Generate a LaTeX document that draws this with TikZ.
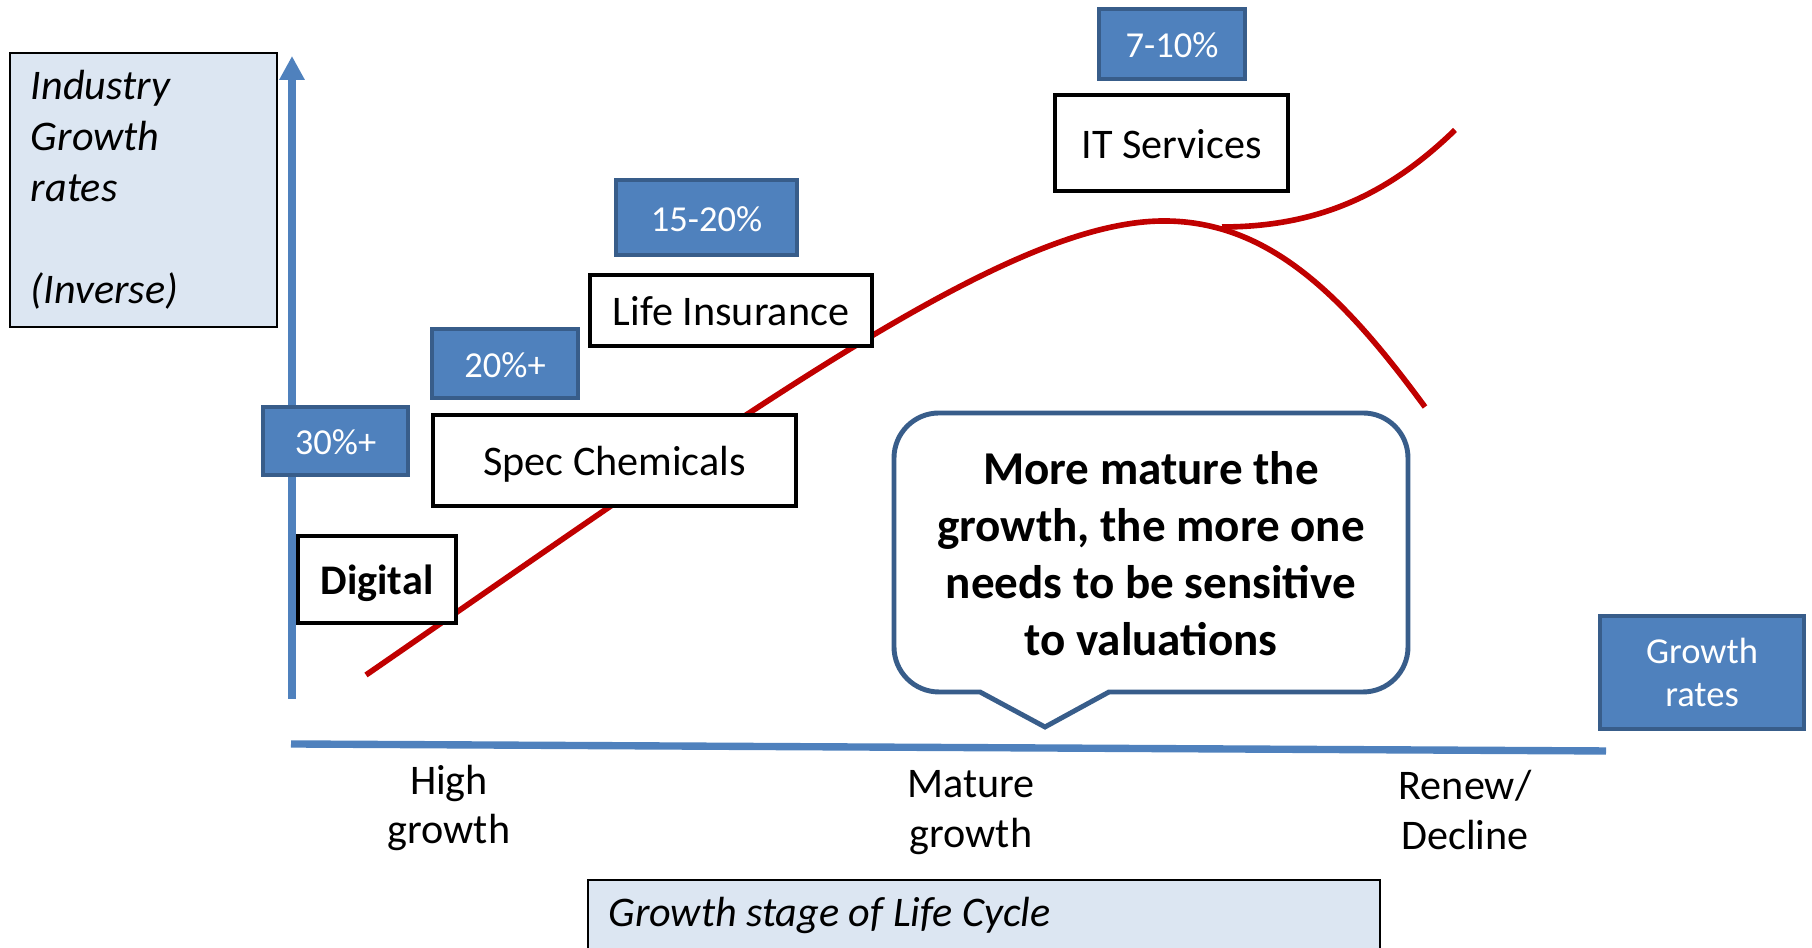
\documentclass[tikz,border=0pt]{standalone}
\usepackage{fontspec}
\setmainfont{Carlito}
\usetikzlibrary{arrows.meta,positioning,calc}

\definecolor{rateblue}{HTML}{4F81BD}
\definecolor{rateedge}{HTML}{385D8A}
\definecolor{paleblue}{HTML}{DCE6F2}
\definecolor{curvered}{HTML}{C00000}

\tikzset{
  ratebox/.style={draw=rateedge, fill=rateblue, line width=1.4pt, text=white, inner sep=0pt,
    align=center, font=\fontsize{10.4}{12.5}\selectfont},
  rateline/.style={ratebox, text height=9.8pt, text depth=2pt},
  sectorbox/.style={draw=black, fill=white, line width=1.4pt, inner sep=0pt,
    text height=11pt, text depth=2.4pt, font=\fontsize{12}{14.4}\selectfont},
  labelbox/.style={draw=black, fill=paleblue, line width=0.6pt,
    font=\fontsize{12}{14.5}\selectfont\itshape},
  stagelabel/.style={align=center, font=\fontsize{12}{14.2}\selectfont},
  axisline/.style={draw=rateblue, line width=2.1pt},
  redline/.style={draw=curvered, line width=1.6pt},
  talk/.style={draw=rateedge, line width=1.4pt, fill=white},
}

\begin{document}
\begin{tikzpicture}
\useasboundingbox (0,0) rectangle (18.12,9.48);
\clip (0,0) rectangle (18.12,9.48);

% axes
\coordinate (origin) at (2.92,2.49);
\coordinate (ytop) at (2.92,8.92);
\coordinate (xleft) at (2.91,2.04);
\coordinate (xright) at (16.06,1.97);
\draw[axisline, -{Triangle[width=0.24cm,length=0.24cm]}] (origin) -- (ytop);
\draw[axisline] (xleft) -- (xright);

% life cycle curve
\draw[redline] (3.66,2.73) .. controls (7.6,5.45) and (10.1,7.27) .. (11.64,7.27)
   .. controls (12.7,7.27) and (13.45,6.5) .. (14.25,5.41);
\draw[redline] (12.22,7.21) .. controls (13.2,7.21) and (13.9,7.55) .. (14.55,8.18);

% axis titles
\node[labelbox, text width=2.25cm, inner xsep=0.21cm, minimum height=2.74cm, align=left]
   (ytitle) at (1.435,7.58) {Industry\\Growth\\rates\\[14.5pt](Inverse)};
\draw[labelbox] (5.88,-0.3) rectangle (13.80,0.68);
\node[font=\fontsize{12}{14.5}\selectfont\itshape, anchor=west] (xtitle) at (5.96,0.33)
   {Growth stage of Life Cycle};
\node[ratebox, minimum width=2.04cm, minimum height=1.13cm] (growth) at (17.02,2.755)
   {Growth\\rates};

% stages
\node[stagelabel] (high) at (4.49,1.40) {High\\growth};
\node[stagelabel] (mature) at (9.71,1.35) {Mature\\growth};
\node[stagelabel] (renew) at (14.65,1.38) {Renew/\\Decline};

% sectors
\node[sectorbox, minimum width=1.58cm, minimum height=0.87cm, font=\fontsize{12}{14.4}\selectfont\bfseries]
   (digital) at (3.77,3.685) {Digital};
\node[sectorbox, minimum width=3.63cm, minimum height=0.91cm] (spec) at (6.145,4.875) {Spec Chemicals};
\node[sectorbox, minimum width=2.82cm, minimum height=0.71cm] (life) at (7.31,6.375) {Life Insurance};
\node[sectorbox, minimum width=2.33cm, minimum height=0.96cm] (it) at (11.715,8.05) {IT Services};

% growth rates
\node[rateline, minimum width=1.45cm, minimum height=0.68cm] (r30) at (3.355,5.07) {30\%+};
\node[rateline, minimum width=1.46cm, minimum height=0.69cm] (r20) at (5.05,5.845) {20\%+};
\node[rateline, minimum width=1.81cm, minimum height=0.75cm] (r15) at (7.065,7.305) {15-20\%};
\node[rateline, minimum width=1.46cm, minimum height=0.70cm] (r7) at (11.72,9.04) {7-10\%};

% callout
\draw[talk] (9.80,2.56) -- (10.45,2.21) -- (11.09,2.56) -- (13.63,2.56)
   arc[start angle=270, end angle=360, radius=0.45] -- (14.08,4.90)
   arc[start angle=0, end angle=90, radius=0.45] -- (9.39,5.35)
   arc[start angle=90, end angle=180, radius=0.45] -- (8.94,3.01)
   arc[start angle=180, end angle=270, radius=0.45] -- cycle;
\node[align=center, font=\fontsize{13.4}{16.2}\selectfont\bfseries] (note) at (11.51,3.94)
   {More mature the\\growth, the more one\\needs to be sensitive\\to valuations};
\end{tikzpicture}
\end{document}
